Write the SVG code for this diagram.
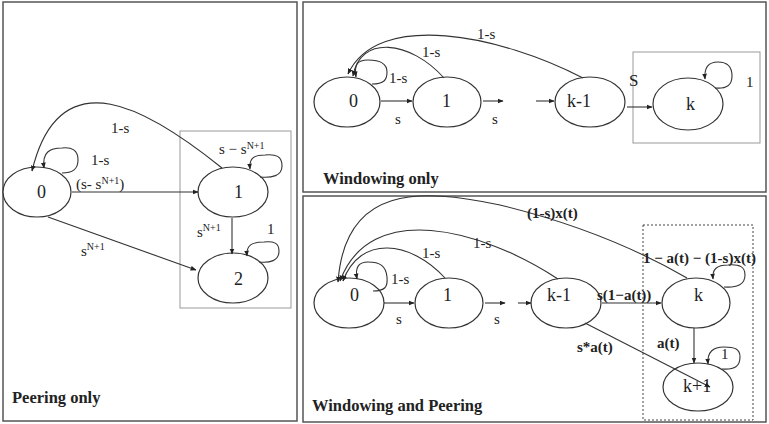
<svg xmlns="http://www.w3.org/2000/svg" width="769" height="424" viewBox="0 0 769 424">
<defs>
<marker id="ah" viewBox="0 0 10 10" refX="9" refY="5" markerWidth="6" markerHeight="6" orient="auto" markerUnits="userSpaceOnUse">
<path d="M0,1 L10,5 L0,9 z" fill="#222"/>
</marker>
<clipPath id="cp"><rect x="303" y="196" width="463" height="226"/></clipPath>
</defs>
<style>
.panel{fill:#fff;stroke:#555;stroke-width:1.5}
.box{fill:none;stroke:#999;stroke-width:1}
.dbox{fill:none;stroke:#444;stroke-width:1;stroke-dasharray:2,2}
.node ellipse{fill:#fff;stroke:#333;stroke-width:1.2}
.nl{font-family:"Liberation Serif",serif;font-size:18px;fill:#222}
.e{fill:none;stroke:#333;stroke-width:1.1;marker-end:url(#ah)}
.t{font-family:"Liberation Serif",serif;font-size:15px;fill:#222}
.b{font-family:"Liberation Serif",serif;font-size:15px;font-weight:bold;fill:#222}
.ti{font-family:"Liberation Serif",serif;font-size:16.5px;font-weight:bold;fill:#222}
.sup{font-size:10px}
</style>
<rect width="769" height="424" fill="#fff"/>
<rect class="panel" x="3" y="2" width="294" height="419"/>
<rect class="panel" x="303" y="2" width="463" height="190"/>
<rect class="panel" x="303" y="196" width="463" height="226"/>
<rect class="box" x="180" y="131" width="111" height="177"/>
<rect class="box" x="633" y="52" width="127" height="91"/>
<rect class="dbox" x="643" y="225" width="110" height="195"/>

<g id="p-0" class="node"><ellipse cx="37" cy="192" rx="34" ry="25"/><text class="nl" x="37" y="198">0</text></g>
<g id="p-1" class="node"><ellipse cx="233" cy="192" rx="35" ry="25"/><text class="nl" x="234" y="198">1</text></g>
<g id="p-2" class="node"><ellipse cx="233" cy="278" rx="35" ry="25"/><text class="nl" x="234" y="285">2</text></g>

<g id="w-0" class="node"><ellipse cx="347" cy="102" rx="33" ry="25"/><text class="nl" x="349" y="107">0</text></g>
<g id="w-1" class="node"><ellipse cx="447" cy="102" rx="34" ry="25"/><text class="nl" x="442" y="107">1</text></g>
<g id="w-k-1" class="node"><ellipse cx="590" cy="102" rx="35" ry="25"/><text class="nl" x="567" y="107">k-1</text></g>
<g id="w-k" class="node"><ellipse cx="688" cy="104" rx="35" ry="26"/><text class="nl" x="686" y="110">k</text></g>

<g id="wp-0" class="node"><ellipse cx="349" cy="303" rx="35" ry="25"/><text class="nl" x="350" y="301">0</text></g>
<g id="wp-1" class="node"><ellipse cx="449" cy="303" rx="34" ry="25"/><text class="nl" x="443" y="301">1</text></g>
<g id="wp-k-1" class="node"><ellipse cx="566" cy="303" rx="35" ry="25"/><text class="nl" x="547" y="301">k-1</text></g>
<g id="wp-k" class="node"><ellipse cx="696" cy="303" rx="34" ry="25"/><text class="nl" x="694" y="301">k</text></g>
<g id="wp-k1" class="node"><ellipse cx="698" cy="387" rx="35" ry="24"/><text class="nl" x="683" y="392">k+1</text></g>

<g id="connectors">
<path class="e" d="M72,192 L198,192"/>
<path class="e" d="M48,217 Q120,243 196,270"/>
<path class="e" d="M222,168 C150,110 60,55 32,171"/>
<path class="e" d="M62,173 C72,173 78,170 78,160 C78,150 72,147 62,148 C50,148 42,152 44,168"/>
<path class="e" d="M232,218 L232,254"/>
<path class="e" d="M260,177 C272,178 282,176 282,166 C282,156 276,154 265,155 C254,155 249,158 250,169"/>
<path class="e" d="M259,262 C270,263 279,261 279,251 C279,243 274,241 264,242 C252,242 246,245 247,256"/>
<path class="e" d="M381,101 L412,101"/>
<path class="e" d="M483,101 L503,101"/>
<path class="e" d="M536,101 L554,101"/>
<path class="e" d="M627,107 L652,107"/>
<path class="e" d="M583,78 C500,35 378,10 348,74"/>
<path class="e" d="M444,78 C410,40 360,35 353,76"/>
<path class="e" d="M372,84 C384,84 387,80 387,72 C387,63 380,60 368,60 C357,60 354,65 356,77"/>
<path class="e" d="M715,88 C727,89 732,85 732,76 C732,66 727,62 718,62 C708,62 704,68 705,79"/>
<path class="e" d="M384,303 L414,303"/>
<path class="e" d="M485,303 L505,303"/>
<path class="e" d="M518,303 L531,303"/>
<path class="e" d="M602,303 L661,303"/>
<path class="e" d="M585,323 L710,387"/>
<path class="e" d="M694,328 L694,363"/>
<path class="e" d="M687,278 C630,245 570,222 500,205 C420,188 345,185 338,282"/>
<path class="e" d="M558,279 C480,228 370,200 340,281"/>
<path class="e" d="M445,278 C410,240 360,235 343,281"/>
<path class="e" d="M373,291 C385,291 388,287 387,277 C386,266 380,262 368,262 C358,262 355,268 357,279"/>
<path class="e" d="M724,287 C738,288 745,284 745,275 C745,267 740,264 728,265 C717,265 712,269 713,279"/>
<path class="e" d="M722,369 C735,370 740,366 740,357 C740,349 735,347 724,347 C713,347 707,352 708,364"/>
</g>

<g id="labels">
<text class="t" x="111" y="133">1-s</text>
<text class="t" x="91" y="165">1-s</text>
<text class="t" x="76" y="189">(s- s<tspan class="sup" dy="-5">N+1</tspan><tspan dy="5">)</tspan></text>
<text class="t" x="81" y="256">s<tspan class="sup" dy="-6">N+1</tspan></text>
<text class="t" x="219" y="154">s − s<tspan class="sup" dy="-5">N+1</tspan></text>
<text class="t" x="197" y="237">s<tspan class="sup" dy="-6">N+1</tspan></text>
<text class="t" x="267" y="234">1</text>
<text class="ti" x="12" y="403">Peering only</text>
<text class="t" x="395" y="124">s</text>
<text class="t" x="492" y="124">s</text>
<text class="t" x="477" y="39">1-s</text>
<text class="t" x="422" y="57">1-s</text>
<text class="t" x="389" y="83">1-s</text>
<text class="t" x="629" y="86" style="font-size:17px">S</text>
<text class="t" x="746" y="87">1</text>
<text class="ti" x="323" y="184">Windowing only</text>
<text class="t" x="396" y="324">s</text>
<text class="t" x="494" y="324">s</text>
<text class="b" x="527" y="218">(1-s)x(t)</text>
<text class="t" x="473" y="248">1-s</text>
<text class="t" x="422" y="258">1-s</text>
<text class="t" x="391" y="284">1-s</text>
<text class="b" x="597" y="300">s(1−a(t))</text>
<text class="b" x="577" y="352">s*a(t)</text>
<text class="b" x="657" y="348">a(t)</text>
<text class="b" x="643" y="263" clip-path="url(#cp)">1 − a(t) − (1-s)x(t)</text>
<text class="t" x="721" y="359">1</text>
<text class="ti" x="312" y="411">Windowing and Peering</text>
</g>
</svg>
